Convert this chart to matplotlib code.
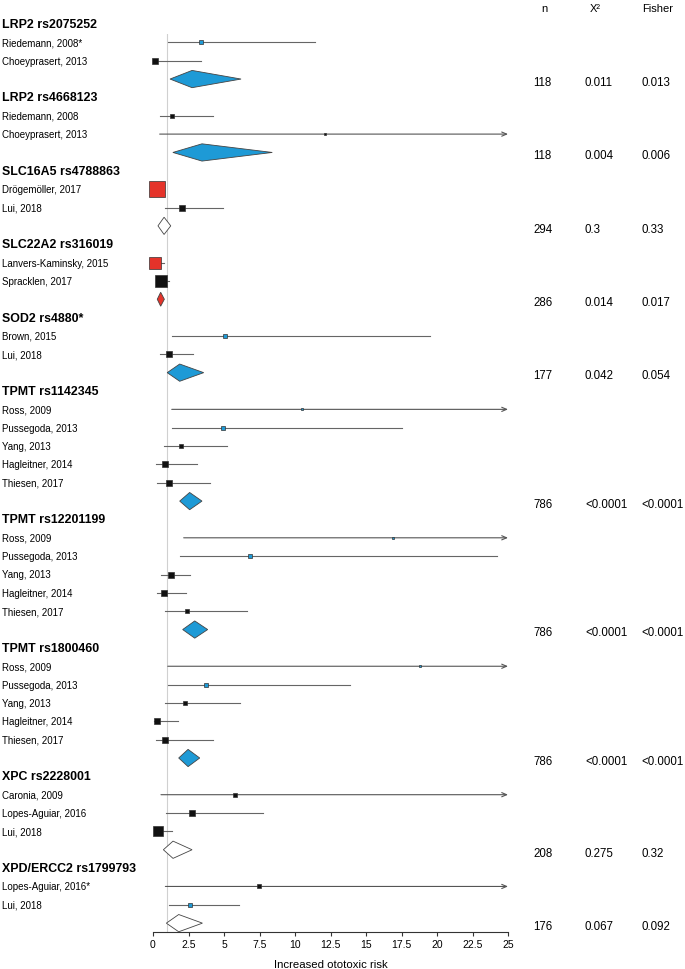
import numpy as np
import matplotlib
matplotlib.use('Agg')
import matplotlib.pyplot as plt
from matplotlib.patches import Polygon
import matplotlib.transforms as mtransforms

plt.rcParams['font.family'] = ['Liberation Sans', 'DejaVu Sans']

INF = float('inf')  # CI runs off the right side of the scale

group_names = ['LRP2 rs2075252', 'LRP2 rs4668123', 'SLC16A5 rs4788863', 'SLC22A2 rs316019',
               'SOD2 rs4880*', 'TPMT rs1142345', 'TPMT rs12201199', 'TPMT rs1800460',
               'XPC rs2228001', 'XPD/ERCC2 rs1799793']

study_labels = [
    ['Riedemann, 2008*', 'Choeyprasert, 2013'],
    ['Riedemann, 2008', 'Choeyprasert, 2013'],
    ['Drögemöller, 2017', 'Lui, 2018'],
    ['Lanvers-Kaminsky, 2015', 'Spracklen, 2017'],
    ['Brown, 2015', 'Lui, 2018'],
    ['Ross, 2009', 'Pussegoda, 2013', 'Yang, 2013', 'Hagleitner, 2014', 'Thiesen, 2017'],
    ['Ross, 2009', 'Pussegoda, 2013', 'Yang, 2013', 'Hagleitner, 2014', 'Thiesen, 2017'],
    ['Ross, 2009', 'Pussegoda, 2013', 'Yang, 2013', 'Hagleitner, 2014', 'Thiesen, 2017'],
    ['Caronia, 2009', 'Lopes-Aguiar, 2016', 'Lui, 2018'],
    ['Lopes-Aguiar, 2016*', 'Lui, 2018'],
]

study_est = [
    [3.4, 0.17],
    [1.37, 12.1],
    [0.28, 2.07],
    [0.12, 0.56],
    [5.1, 1.13],
    [10.5, 4.9, 2.0, 0.82, 1.13],
    [16.9, 6.83, 1.27, 0.77, 2.4],
    [18.8, 3.76, 2.23, 0.31, 0.85],
    [5.8, 2.73, 0.38],
    [7.45, 2.6],
]
study_lo = [
    [1.06, 0.0],
    [0.47, 0.47],
    [0.2, 0.87],
    [0.05, 0.3],
    [1.32, 0.47],
    [1.32, 1.32, 0.75, 0.19, 0.28],
    [2.16, 1.88, 0.56, 0.28, 0.87],
    [1.04, 1.04, 0.87, 0.1, 0.21],
    [0.56, 0.94, 0.2],
    [0.87, 1.13],
]
study_hi = [
    [11.4, 3.4],
    [4.2, INF],
    [0.6, 4.9],
    [0.75, 1.13],
    [19.5, 2.82],
    [INF, 17.5, 5.2, 3.1, 4.0],
    [INF, 24.2, 2.63, 2.35, 6.6],
    [INF, 13.85, 6.13, 1.79, 4.25],
    [INF, 7.75, 1.32],
    [INF, 6.04],
]
# study weight (drawn as square side)
study_weight = [
    [4, 6],
    [5, 3],
    [17, 6],
    [13, 12],
    [4, 6],
    [3, 4, 5, 6, 6],
    [3, 4, 7, 7, 5],
    [3, 4, 5, 7, 6],
    [4, 6, 11],
    [4, 5],
]
# b = significant risk, k = not significant, r = protective
study_kind = [
    ['b', 'k'],
    ['k', 'k'],
    ['r', 'k'],
    ['r', 'k'],
    ['b', 'k'],
    ['b', 'b', 'k', 'k', 'k'],
    ['b', 'b', 'k', 'k', 'k'],
    ['b', 'b', 'k', 'k', 'k'],
    ['k', 'k', 'k'],
    ['k', 'b'],
]

pooled_est = [2.75, 3.45, 0.78, 0.54, 1.88, 2.58, 2.94, 2.47, 1.41, 1.81]
pooled_lo = [1.2, 1.4, 0.35, 0.3, 1.0, 1.88, 2.09, 1.81, 0.73, 0.94]
pooled_hi = [6.2, 8.4, 1.25, 0.8, 3.57, 3.45, 3.85, 3.29, 2.75, 3.48]
pooled_kind = ['b', 'b', 'w', 'r', 'b', 'b', 'b', 'b', 'w', 'w']

n_vals = ['118', '118', '294', '286', '177', '786', '786', '786', '208', '176']
chi2_vals = ['0.011', '0.004', '0.3', '0.014', '0.042', '<0.0001', '<0.0001', '<0.0001', '0.275', '0.067']
fisher_vals = ['0.013', '0.006', '0.33', '0.017', '0.054', '<0.0001', '<0.0001', '<0.0001', '0.32', '0.092']

fill = {'b': '#1e9ad6', 'k': '#111111', 'r': '#e5332a', 'w': 'white'}

fig = plt.figure(figsize=(6.85, 9.70), dpi=100)
ax = fig.add_axes([153 / 685, 1 - 933 / 970, (508 - 153) / 685, (933 - 35) / 970])

row_px = 18.35
ax.set_xlim(0, 25)
ax.set_ylim((933 - 25) / row_px, (35 - 25) / row_px)

lab = mtransforms.blended_transform_factory(fig.transFigure, ax.transData)

ax.axvline(1, color='#d0d0d0', lw=0.8, zorder=0)

r = 0
for g, name in enumerate(group_names):
    ax.text(0.003, r, name, transform=lab, fontsize=8.9, fontweight='bold',
            va='center', ha='left')
    r += 1
    for j, lbl in enumerate(study_labels[g]):
        ax.text(0.003, r, lbl, transform=lab, fontsize=7.0, va='center', ha='left')
        lo, hi, est = study_lo[g][j], study_hi[g][j], study_est[g][j]
        if np.isinf(hi):
            ax.annotate('', xy=(25, r), xytext=(lo, r),
                        arrowprops=dict(arrowstyle='->,head_length=0.35,head_width=0.15',
                                        color='#555555', lw=0.8, shrinkA=0, shrinkB=0))
        else:
            ax.plot([lo, hi], [r, r], color='#666666', lw=0.8, zorder=2)
        ax.plot(est, r, marker='s', ms=study_weight[g][j] / 1.39,
                mfc=fill[study_kind[g][j]], mec='#333333', mew=0.5,
                zorder=3, clip_on=False)
        r += 1
    h = 0.47
    kind = pooled_kind[g]
    if kind == 'r':
        h = 0.38
    dia = Polygon([(pooled_lo[g], r), (pooled_est[g], r - h), (pooled_hi[g], r),
                   (pooled_est[g], r + h)], closed=True, facecolor=fill[kind],
                  edgecolor='#444444', lw=0.6, zorder=3, clip_on=False)
    ax.add_patch(dia)
    ax.text(0.779, r + 0.15, n_vals[g], transform=lab, fontsize=8.3, va='center')
    ax.text(0.854, r + 0.15, chi2_vals[g], transform=lab, fontsize=8.3, va='center')
    ax.text(0.937, r + 0.15, fisher_vals[g], transform=lab, fontsize=8.3, va='center')
    r += 1

fig.text(544 / 685, 1 - 9 / 970, 'n', fontsize=8, ha='center', va='center')
fig.text(595 / 685, 1 - 9 / 970, 'X²', fontsize=8, ha='center', va='center')
fig.text(642 / 685, 1 - 9 / 970, 'Fisher', fontsize=8, ha='left', va='center')

for s in ['top', 'right', 'left']:
    ax.spines[s].set_visible(False)
ax.spines['bottom'].set_color('#333333')
ax.spines['bottom'].set_linewidth(0.8)
ax.set_yticks([])
ticks = np.arange(0, 25.1, 2.5)
ax.set_xticks(ticks)
ax.set_xticklabels(['%g' % t for t in ticks])
ax.tick_params(axis='x', labelsize=7.5, length=3, width=0.8, color='#333333', pad=2)
ax.set_xlabel('Increased ototoxic risk', fontsize=8.2, labelpad=7)

fig.savefig('out.png', dpi=100)
